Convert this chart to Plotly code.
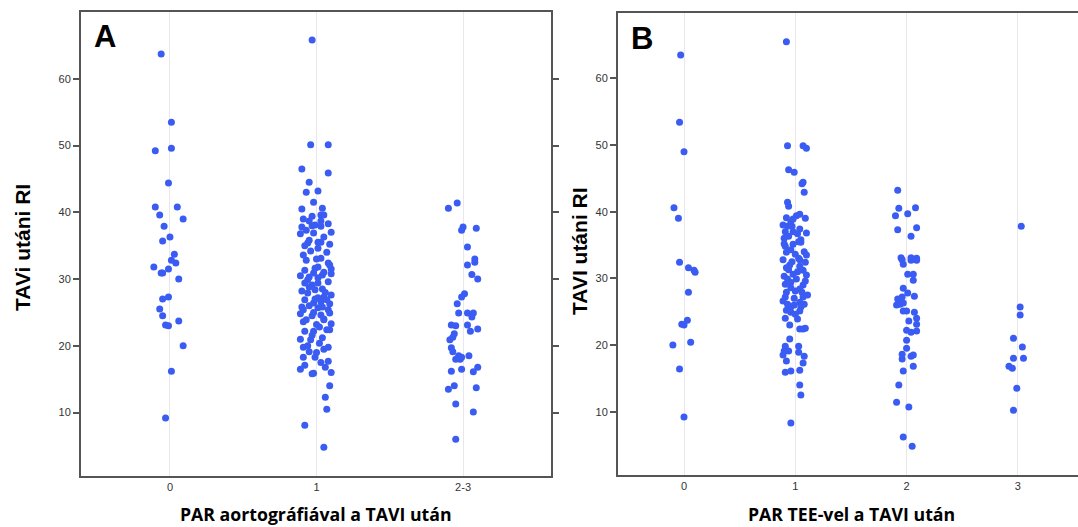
import plotly.graph_objects as go

# ---------------- Panel A data (PAR aortográfiával) ----------------
a_categories = ["0", "1", "2-3"]

a0_y = [63.7, 53.5, 49.2, 49.6, 44.4, 40.8, 40.8, 39.6, 39.0, 37.9, 36.3, 35.7, 33.7, 32.4, 32.8,
        31.8, 30.9, 30.9, 31.5, 30.0, 27.3, 27.0, 25.5, 24.5, 23.7, 23.1, 23.0, 20.0, 16.2, 9.2]
a0_jit = [-0.06, 0.01, -0.10, 0.01, -0.01, -0.10, 0.05, -0.07, 0.09, -0.04, 0.0, -0.05, 0.03, 0.04, 0.01,
          -0.11, -0.06, -0.05, -0.01, 0.06, -0.01, -0.05, -0.07, -0.05, 0.06, -0.03, -0.01, 0.09, 0.01, -0.03]

a1_y = [65.8, 50.1, 50.1, 46.5, 45.9, 44.5, 43.0, 43.2, 40.6, 39.6, 39.6, 39.4, 39.0, 38.7, 38.7,
        37.8, 38.1, 37.9, 37.3, 36.9, 36.3, 35.8, 35.5, 35.4, 35.5, 34.0, 33.6, 33.1, 32.8, 32.1,
        32.4, 31.8, 31.3, 30.9, 30.3, 30.6, 29.6, 29.9, 29.1, 29.4, 28.4, 28.5, 27.6, 27.9, 27.2,
        27.3, 26.9, 26.6, 26.4, 26.3, 25.8, 25.4, 25.7, 25.8, 24.9, 24.5, 23.9, 24.0, 23.6, 22.4,
        22.4, 22.2, 22.2, 20.9, 20.4, 19.8, 19.8, 19.1, 19.5, 18.3, 18.3, 17.7, 16.8, 17.1, 15.9,
        15.8, 14.0, 12.3, 10.5, 8.1, 4.8,
        36.8, 37.0, 34.2, 33.0, 31.0, 30.5, 30.8, 31.6, 28.8, 28.0, 28.2, 27.0, 26.9, 26.0, 24.6,
        23.9, 23.2, 24.8, 23.3, 21.6, 21.2, 21.0, 31.5, 34.6, 35.0, 38.3, 38.0, 30.2, 29.4, 25.4,
        25.0, 22.8, 20.0, 19.0, 17.5, 16.5, 16.0, 40.5, 41.5, 35.2]
a1_jit = [-0.03, -0.04, 0.08, -0.10, 0.08, -0.05, -0.07, 0.01, 0.04, 0.05, 0.03, -0.03, -0.09, -0.05, 0.03,
          -0.10, -0.01, 0.03, -0.07, -0.02, 0.05, -0.05, 0.01, -0.06, 0.03, 0.07, -0.09, 0.03, -0.07, 0.09,
          0.08, 0.01, -0.08, -0.02, -0.05, 0.04, 0.08, -0.06, -0.03, 0.01, -0.01, 0.04, 0.10, -0.06, 0.01,
          0.05, -0.08, 0.03, -0.02, 0.09, -0.10, -0.09, 0.01, 0.04, 0.09, -0.03, 0.05, 0.05, -0.09, 0.07,
          0.09, -0.08, -0.02, -0.04, 0.02, -0.09, 0.08, -0.05, 0.05, -0.09, -0.01, 0.08, 0.06, -0.08, -0.02,
          -0.03, 0.09, 0.06, 0.07, -0.08, 0.05,
          -0.11, 0.10, -0.04, 0.0, 0.05, -0.11, 0.10, -0.01, -0.05, 0.06, -0.10, -0.01, 0.07, -0.05, 0.03,
          -0.07, 0.0, -0.11, 0.10, -0.03, 0.04, -0.11, 0.10, 0.01, -0.08, 0.08, -0.03, 0.01, -0.08, 0.08,
          -0.02, 0.02, -0.06, 0.0, 0.03, -0.11, 0.10, -0.10, -0.02, 0.09]

a2_y = [40.6, 41.4, 37.8, 37.3, 37.6, 34.8, 33.0, 32.5, 32.1, 30.7, 30.0, 27.8, 27.3, 26.3, 24.9,
        24.9, 24.9, 24.3, 23.1, 23.0, 23.1, 22.5, 22.2, 21.8, 21.3, 20.9, 19.7, 19.1, 18.5, 18.3,
        18.0, 18.0, 18.5, 16.8, 16.1, 16.5, 16.2, 14.0, 13.5, 13.7, 11.3, 10.1, 6.0]
a2_jit = [-0.10, -0.04, 0.0, -0.01, 0.09, 0.03, 0.08, 0.08, 0.03, 0.06, 0.10, 0.01, -0.01, -0.04, -0.03,
          0.03, 0.07, 0.06, -0.08, -0.05, 0.03, 0.10, 0.05, -0.06, -0.07, -0.09, -0.08, -0.07, -0.03, -0.01,
          -0.05, -0.02, 0.04, 0.10, 0.07, -0.01, -0.08, -0.06, -0.10, 0.09, -0.05, 0.07, -0.05]

# ---------------- Panel B data (PAR TEE-vel) ----------------
b_categories = ["0", "1", "2", "3"]

b0_y = [63.5, 53.4, 49.0, 40.6, 39.0, 32.4, 31.6, 31.2, 30.9, 27.9, 23.7, 23.1, 23.0, 20.0, 20.4, 16.4, 9.2]
b0_jit = [-0.03, -0.04, 0.0, -0.09, -0.05, -0.04, 0.04, 0.09, 0.10, 0.04, 0.03, -0.02, 0.0, -0.10, 0.06, -0.04, 0.0]

b1_y = [65.5, 49.9, 49.9, 49.5, 46.3, 45.9, 44.4, 44.2, 42.9, 41.4, 40.8, 39.4, 39.6, 39.0, 39.1,
        38.5, 37.8, 37.8, 37.0, 37.0, 36.7, 36.3, 36.0, 35.8, 35.5, 34.8, 35.1, 35.4, 33.9, 34.0,
        33.6, 32.8, 32.4, 32.5, 31.6, 31.3, 31.0, 30.6, 30.3, 29.9, 29.9, 29.6, 29.0, 29.1, 28.1,
        27.9, 27.9, 27.5, 27.2, 27.2, 26.4, 26.1, 26.1, 25.7, 25.7, 25.1, 25.2, 24.9, 24.6, 23.9,
        23.0, 22.4, 22.4, 22.5, 20.9, 19.8, 19.8, 19.1, 19.1, 18.9, 18.5, 18.3, 17.6, 17.3, 15.9,
        16.1, 16.2, 14.0, 12.5, 8.3,
        32.0, 31.8, 32.8, 28.6, 28.4, 26.6, 27.0, 30.5, 34.3, 37.4, 38.0, 36.8, 26.0, 24.0, 31.2,
        29.4, 33.0, 33.5, 38.9, 35.2]
b1_jit = [-0.08, -0.07, 0.07, 0.10, -0.06, -0.01, 0.07, 0.06, 0.08, -0.07, -0.06, 0.01, 0.04, 0.09, -0.08,
          -0.04, -0.07, -0.03, -0.09, -0.02, 0.02, -0.06, -0.10, 0.05, 0.03, -0.09, -0.02, 0.05, -0.08, 0.08,
          0.0, 0.04, 0.09, -0.03, -0.08, -0.06, 0.02, -0.02, -0.10, -0.07, 0.01, 0.09, 0.07, -0.09, 0.0,
          0.06, -0.08, 0.11, 0.07, -0.09, 0.04, 0.08, -0.07, -0.04, 0.05, 0.04, -0.08, -0.04, 0.0, 0.02,
          -0.05, 0.04, 0.07, 0.09, -0.05, -0.09, 0.03, -0.10, -0.06, 0.03, -0.11, 0.08, -0.08, 0.07, -0.09,
          -0.04, 0.04, 0.04, 0.05, -0.04,
          -0.05, 0.04, -0.11, -0.04, 0.04, -0.11, -0.01, 0.10, -0.04, 0.04, -0.11, 0.10, -0.01, -0.09, 0.07,
          -0.04, 0.03, 0.10, -0.02, -0.10]

b2_y = [43.2, 40.5, 40.6, 39.4, 39.7, 37.3, 37.6, 36.3, 33.1, 33.1, 33.0, 32.8, 32.7, 32.7, 32.1,
        30.6, 30.6, 29.7, 28.5, 27.8, 27.3, 26.9, 27.2, 26.0, 26.1, 26.3, 25.1, 25.1, 24.9, 24.0,
        23.6, 23.1, 22.2, 21.9, 22.1, 20.7, 19.5, 18.6, 17.9, 18.3, 18.5, 16.8, 16.1, 14.0, 11.4,
        10.7, 6.2, 4.8]
b2_jit = [-0.08, -0.07, 0.08, -0.10, 0.01, -0.08, 0.09, 0.04, -0.05, 0.04, 0.09, -0.04, 0.04, 0.09, -0.03,
          0.01, 0.06, 0.06, -0.03, 0.01, 0.07, -0.08, -0.04, -0.09, -0.06, -0.03, -0.03, 0.0, 0.07, 0.09,
          0.02, 0.09, 0.0, 0.04, 0.09, 0.0, 0.0, -0.04, -0.04, 0.04, 0.06, 0.06, -0.03, -0.07, -0.09,
          0.02, -0.03, 0.05]

b3_y = [37.8, 25.7, 24.5, 21.0, 19.7, 18.0, 18.0, 16.8, 16.5, 13.5, 10.2]
b3_jit = [0.03, 0.02, 0.02, -0.04, 0.04, -0.04, 0.05, -0.08, -0.05, -0.01, -0.04]

y_ticks = [10, 20, 30, 40, 50, 60]

POINT_COLOR = "#3a5cf2"
AXIS_COLOR = "#555555"
GRID_COLOR = "#e8e8ec"

fig = go.Figure()

def add_group(ys, jit, cat_idx, xref, yref):
    fig.add_trace(go.Scatter(
        x=[cat_idx + j for j in jit], y=ys, mode="markers",
        marker=dict(color=POINT_COLOR, size=7, line=dict(width=0)),
        xaxis=xref, yaxis=yref, showlegend=False, hoverinfo="y"))

for i, (ys, jit) in enumerate([(a0_y, a0_jit), (a1_y, a1_jit), (a2_y, a2_jit)]):
    add_group(ys, jit, i, "x", "y")
for i, (ys, jit) in enumerate([(b0_y, b0_jit), (b1_y, b1_jit), (b2_y, b2_jit), (b3_y, b3_jit)]):
    add_group(ys, jit, i, "x2", "y2")

W, H = 1078, 527
tickfont = dict(family="Liberation Sans, Arial, sans-serif", size=11, color="#333333")

common_x = dict(showline=True, linecolor=AXIS_COLOR, linewidth=2, mirror=True,
                showgrid=True, gridcolor=GRID_COLOR, gridwidth=1, zeroline=False,
                ticks="", tickfont=tickfont, fixedrange=True)
common_y = dict(showline=True, linecolor=AXIS_COLOR, linewidth=2,
                showgrid=False, zeroline=False, ticks="outside", ticklen=6, tickwidth=1.5,
                tickcolor=AXIS_COLOR, tickvals=y_ticks, tickfont=tickfont, fixedrange=True)

fig.update_layout(
    width=W, height=H,
    margin=dict(l=0, r=0, t=0, b=0),
    paper_bgcolor="white", plot_bgcolor="white",
    font=dict(color="#333333"),
    xaxis=dict(domain=[81 / W, 551 / W], range=[-0.607, 2.60], anchor="y",
               tickvals=[0, 1, 2], ticktext=a_categories, **common_x),
    yaxis=dict(domain=[1 - 476 / H, 1 - 12 / H], range=[0.5, 70.0], anchor="x",
               mirror="ticks", **common_y),
    xaxis2=dict(domain=[618 / W, 1.0], range=[-0.593, 3.54], anchor="y2",
                tickvals=[0, 1, 2, 3], ticktext=b_categories, **common_x),
    yaxis2=dict(domain=[1 - 475 / H, 1 - 13 / H], range=[0.5, 69.8], anchor="x2",
                mirror=False, **common_y),
)

title_font = dict(family="Open Sans, Noto Sans, sans-serif", size=17.7, color="black")
ytitle_font = dict(family="Liberation Sans, Arial, sans-serif", size=21, color="black")

annotations = [
    dict(text="<b>A</b>", x=105 / W, y=1 - 37 / H, font=dict(family="Liberation Sans, Arial", size=31, color="black")),
    dict(text="<b>B</b>", x=642 / W, y=1 - 38 / H, font=dict(family="Liberation Sans, Arial", size=31, color="black")),
    dict(text="<b>PAR aortográfiával a TAVI után</b>", x=316 / W, y=1 - 514 / H, font=title_font),
    dict(text="<b>PAR TEE-vel a TAVI után</b>", x=851 / W, y=1 - 514 / H, font=title_font),
    dict(text="<b>TAVi utáni RI</b>", x=22 / W, y=1 - 248 / H, textangle=-90, font=ytitle_font),
    dict(text="<b>TAVI utáni RI</b>", x=579 / W, y=1 - 251 / H, textangle=-90, font=ytitle_font),
]
for a in annotations:
    fig.add_annotation(xref="paper", yref="paper", showarrow=False,
                       xanchor="center", yanchor="middle", **a)

fig.write_html("out.html", config={"displayModeBar": False})
